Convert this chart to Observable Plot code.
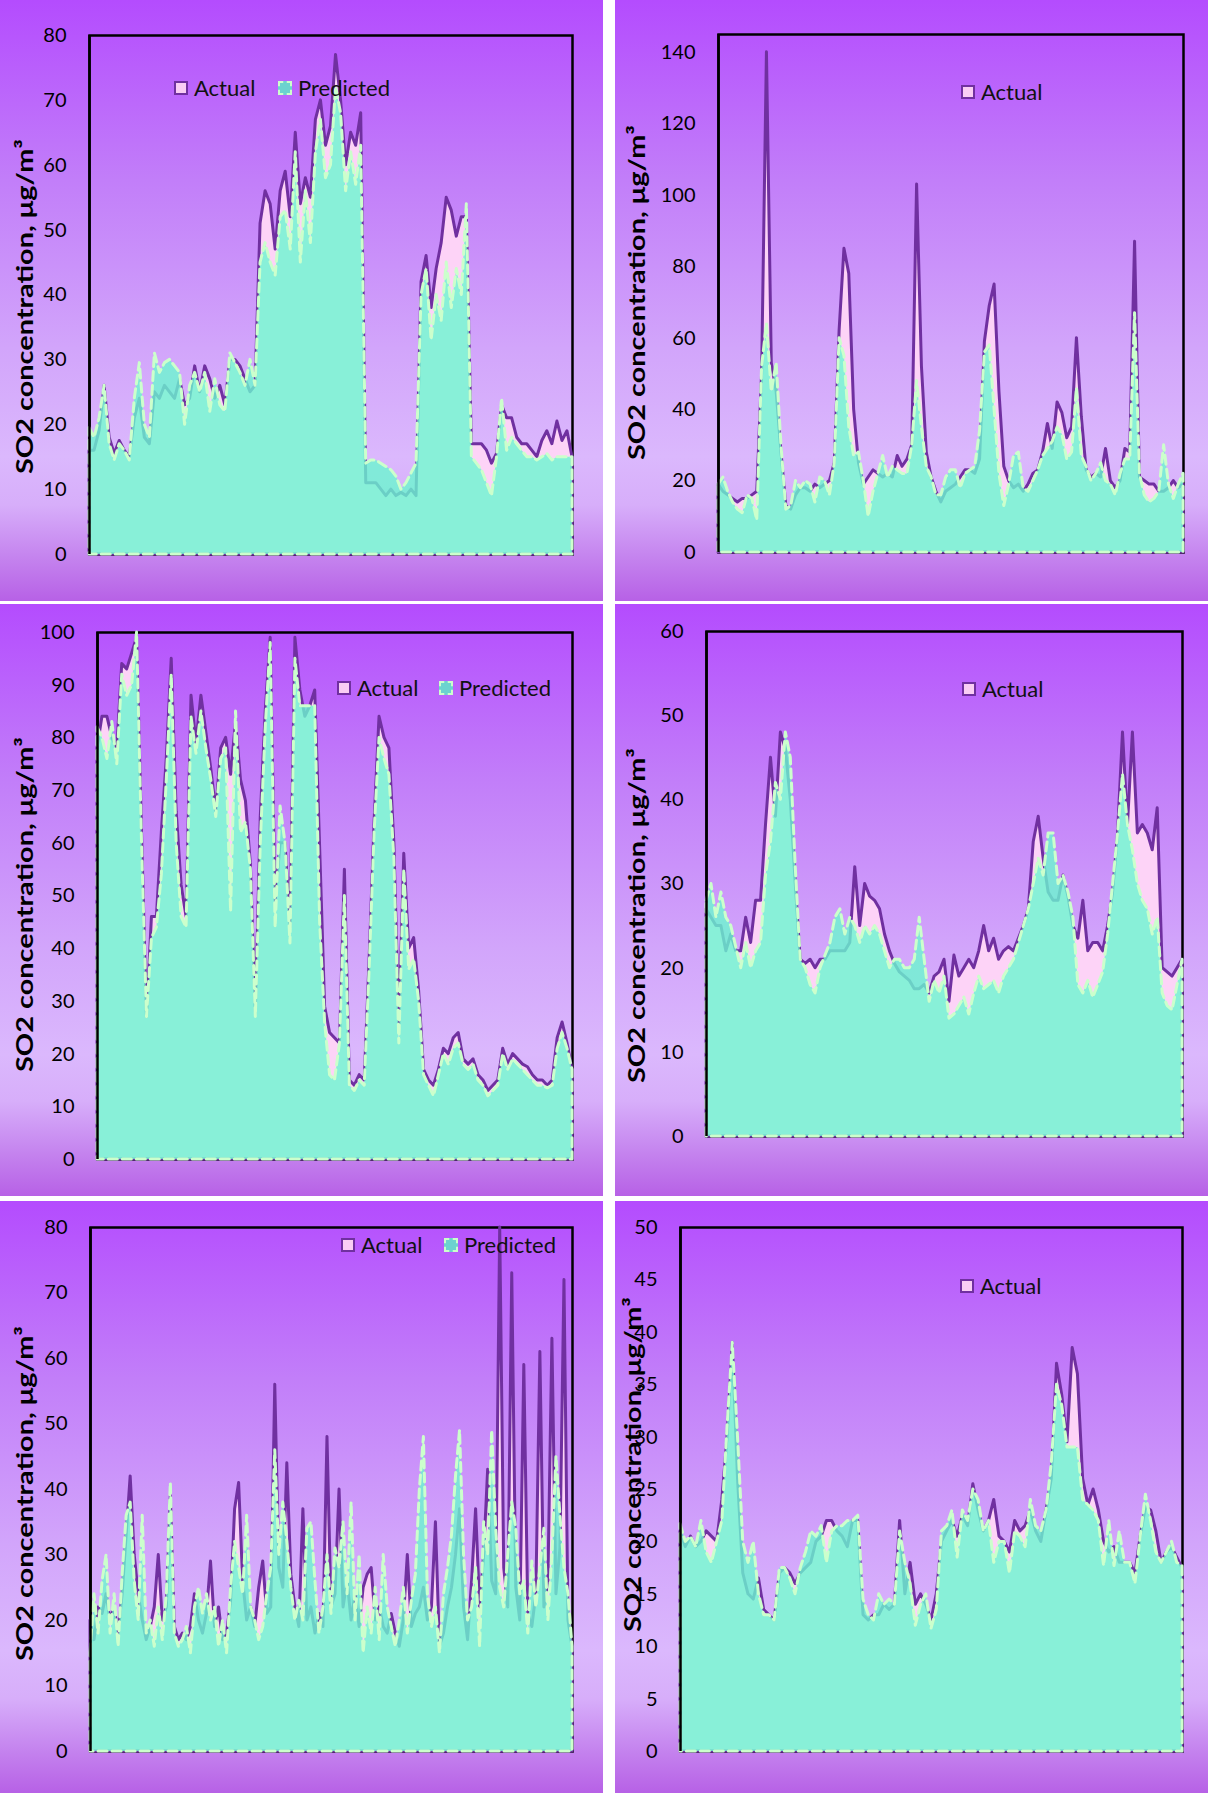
<!DOCTYPE html>
<html><head><meta charset="utf-8">
<script src="https://cdn.jsdelivr.net/npm/d3@7"></script>
<script src="https://cdn.jsdelivr.net/npm/@observablehq/plot@0.6"></script>
<style>
body{margin:0;background:#fff;}
#page{position:relative;width:1208px;height:1793px;overflow:hidden;font-family:Lato,"Open Sans",sans-serif;}
.panel{position:absolute;background:linear-gradient(to bottom,#b44cfe 0%,#c27ef9 30%,#d2a5fb 58%,#dbb8fd 76%,#d7aefa 84%,#c482ee 93%,#b761e6 100%);}
.panel svg{position:absolute;left:0;top:0;}
.legend{position:absolute;display:flex;align-items:center;font-size:22px;line-height:24px;color:#111;white-space:nowrap;}
.sw{width:14px;height:14px;box-sizing:border-box;margin-right:6px;}
.sw.a{background:#f9cdf4;border:2px solid #7030a0;}
.sw.p{background:#6cd3cf;border:2px dashed #ccffcc;}
</style></head>
<body><div id="page"></div>
<script>
// ---------- data ----------
const yLabel = "SO2 concentration, μg/m³";
const legendActual = "Actual";
const legendPredicted = "Predicted";

const TL_actual = [16,16,19,26,18,15.5,17.5,16,15,21,24,18,17,25,24,26,25,24,27,23,24,29,25,29,27,24,26,23,30,30,29,27,25,26,51,56,54,47,56,59,52,65,54,58,55,67,70,63,66,77,70,60,65,63,68,11,11,11,10,9,10,9,9.5,9,10,9,42,46,38,44,48,55,53,49,52,52,17,17,17,16,14,15.5,23,21,21,18,17,17,16,15,17.5,19,17,20.5,17.5,19,15];
const TL_pred = [19.5,18,21,26,17,14.5,17,16,14.5,24,29.5,20,18,31,28,29.5,30,29,28,20,26,28,25,28,22,27,23,22,31,29.5,28,26,30,26,45,48,45,43,52,53,47,62,45,56,48,62,67,58,60,72,68,56,62,57,63,14,14.5,14.5,14,13.5,13,12,10,11,12.5,14,40,44,33,40,36,45,38,44,40,54,15,14,13,11,9,15,24,16,18,17,16,15,15,14.5,15,15.5,14.5,15,15,15,15];

const TR_actual = [19,17,16,15,14,15,15,16,17,50,140,53,45,28,13,12,16,18,18,17,19,18,19,20,25,62,85,78,40,25,19,21,23,22,21,22,21,27,24,26,30,103,52,28,21,17,14,17,18,19,21,23,23,22,26,59,69,75,45,24,20,18,19,17,19,22,23,28,36,29,42,39,32,35,60,38,23,21,22,21,29,20,18,20,29,28,87,21,20,19,19,17,17,18,20,18,19];
const TR_pred = [19,21,17,14,12,11,16,15,9,52,64,45,53,30,12,13,20,18,20,19,14,21,20,16,25,60,55,35,27,28,20,10,17,22,27,21,24,23,22,22,30,48,35,24,21,16,16,21,23,23,18,22,23,24,34,56,58,40,22,13,19,27,28,18,17,20,23,27,29,31,35,33,26,28,46,27,24,20,22,25,20,19,16,22,26,26,67,22,16,14,15,17,30,19,15,19,22];

const ML_actual = [78,84,84,80,78,94,93,96,99,62,27,46,46,62,76,95,66,52,46,88,79,88,81,74,66,78,80,73,83,72,68,56,28,65,85,99,49,60,60,44,99,89,84,86,89,59,29,24,23,22,55,15,14,16,15,38,64,84,80,78,60,25,58,40,42,32,17,15,14,17,21,20,23,24,19,18,19,16,15,13,14,15,21,18,20,19,18,17.5,16,15,15,14,15,23,26,22,17];
const ML_pred = [82,80,76,83,75,92,88,90,100,60,27,42,44,54,72,92,60,46,44,84,77,85,78,72,65,76,78,47,85,62,64,55,27,60,82,98,44,67,60,41,95,86,86,86,86,45,26,16,15,22,50,14,13,15,14,36,62,80,76,73,57,22,55,36,38,30,16,14,12,16,20,18,21,22,18,17,18,15,14,12,13,14,20,17,19,18,17,16,15,14,14,13.5,14,21,24,21,17];

const MR_actual = [27,26,25,25,22,24,22,22,26,23,28,28,37,45,38,48,46,40,30,21,20.5,21,20,21,21,22,22,22,22,23,32,25,30,28.5,28,27,24,22,20.5,19.5,19,18.5,17.5,17.5,18,17,19,19.5,21,16,21.5,19,20,21,20,22,25,22,23.5,21,22,22.5,22,23.5,25,27,35,38,33,29,28,28,31,28.5,25,23.5,28,22,23,23,22,25,29,36,48,37,48,36,37,36,34,39,20,19.5,19,20,21];
const MR_pred = [28,30,26,29,26,25,22.5,20,23,20,22,23,31,35,42,40,48,45,32,21,20,18,17,20,21.5,23,26,27,24,26,25,23,25,24,25,24,22,20,21,21,20,20,21,26,21,16,18.5,17,19,14,14.5,15.5,16.5,14.5,17,19,17.5,18,18.5,17,19,20,21,23,25,27,30,33,31,36,36,30,31,29,26,18,17,18.5,16.5,18,19.5,24,30,36,43,37,34,30,28,27,24,26,17,15.5,15,18,21];

const BL_actual = [20,17,22,21,24,20,22,18,24,33,42,30,24,20,17,19,22,30,20,22,39,19,17,18,17,19,24,20,18,21,29,19,22,17,18,23,37,41,26,20,22,19,25,29,21,22,56,28,25,44,27,22,19,37,20,22,18,21,19,48,22,24,40,22,26,20,24,19,25,27,28,20,22,19,18,21,18,16,20,30,19,21,22,25,20,22,35,16,18,22,25,30,37,22,17,26,37,22,30,43,26,24,80,28,22,73,25,20,59,21,19,24,61,22,26,63,24,31,72,20,16];
const BL_pred = [15,24,18,26,30,18,24,16,27,36,38,26,20,36,18,20,16,22,17,24,41,18,16,17,19,15,22,25,21,24,20,22,16,20,15,25,32,28,24,36,22,20,17,19,24,28,46,30,38,32,25,20,23,20,34,35,26,18,22,30,21,31,28,35,24,38,20,30,15,22,18,25,17,30,22,19,16,20,25,18,23,27,40,48,24,19,22,15,24,28,33,42,49,30,20,22,28,16,35,30,49,34,25,22,30,38,34,24,26,18,29,22,28,34,20,30,45,36,28,24,16];

const BR_actual = [21,19.5,20.5,19.5,20,21,20.5,20,24,30,39,26,17,15,14.5,16.5,13.5,13,12.5,17,17.5,17,16,17,17.5,18,20,20.5,22,22,21,20.5,19.5,22,22,13,12.5,13,13,14,13.5,14,22,15,18,14,15,14,12.5,15,20,21,22,20.5,22.5,21.5,25.5,23,21,22,24,20.5,20,19,22,21,21.5,23,21,20,23,26,37,34,29.5,38.5,36,26,23.5,25,23,20,19,19.5,18,18,18,17,20.5,23.3,23,21,18,19,19.5,18.5,17.5];
const BR_pred = [21.7,20,20.5,19.5,22,19,18,20,22,31,39,30,20,18,20,15,13,13,12.5,17.5,17.5,16.5,15,17.5,19,21,20.5,21.5,18,21,21.5,21.5,22,22,22.5,14.5,13,12.5,15,14,14.5,14,21,18,16,12,14,15,11.7,13.5,21,21.5,23,18.5,23,22,25,24,21,22,18,20,20,17,21,20.5,19.5,24,21.5,21,23,27.5,35,33,29,29,29,24,23.5,23,22,17.7,22,17.7,21,18,18,16,20.5,24.5,22,19,18,19,20,18,17.7];

// y-axis maxima and tick steps
const TL_y = [80, 10], TR_y = [145, 20], ML_y = [100, 10], MR_y = [60, 10], BL_y = [80, 10], BR_y = [50, 5];

// ---------- layout ----------
const panels = [
  {left:0,   top:0,    w:603, h:601, L:89,  R:572,  T:35,   B:554,  y:TL_y, a:TL_actual, p:TL_pred, lab:[25,306],  leg:{y:88,   ax:174, px:278}},
  {left:615, top:0,    w:593, h:601, L:718, R:1183, T:34,   B:552,  y:TR_y, a:TR_actual, p:TR_pred, lab:[637,292], leg:{y:92,   ax:961}},
  {left:0,   top:604,  w:603, h:592, L:97,  R:572,  T:632,  B:1159, y:ML_y, a:ML_actual, p:ML_pred, lab:[25,904],  leg:{y:688,  ax:337, px:439}},
  {left:615, top:604,  w:593, h:592, L:706, R:1182, T:631,  B:1136, y:MR_y, a:MR_actual, p:MR_pred, lab:[637,915], leg:{y:689,  ax:962}},
  {left:0,   top:1201, w:603, h:592, L:90,  R:572,  T:1227, B:1751, y:BL_y, a:BL_actual, p:BL_pred, lab:[25,1493], leg:{y:1245, ax:341, px:444}},
  {left:615, top:1201, w:593, h:592, L:680, R:1182, T:1227, B:1751, y:BR_y, a:BR_actual, p:BR_pred, lab:[633,1464],leg:{y:1286, ax:960}}
];

const page = document.getElementById("page");

function legendItem(x, cy, kind, text){
  const d = document.createElement("div");
  d.className = "legend";
  d.style.left = x + "px";
  d.style.top = (cy - 12) + "px";
  const s = document.createElement("span");
  s.className = "sw " + kind;
  d.appendChild(s);
  d.appendChild(document.createTextNode(text));
  page.appendChild(d);
}

for (const P of panels) {
  const N = P.a.length;
  const data = d3.range(N).map(i => ({i, actual: P.a[i], pred: P.p[i]}));
  const [ymax, ystep] = P.y;
  const mL = P.L - P.left, mR = P.left + P.w - P.R, mT = P.T - P.top, mB = P.top + P.h - P.B;
  const div = document.createElement("div");
  div.className = "panel";
  Object.assign(div.style, {left: P.left + "px", top: P.top + "px", width: P.w + "px", height: P.h + "px"});
  const chart = Plot.plot({
    width: P.w, height: P.h,
    marginLeft: mL, marginRight: mR, marginTop: mT, marginBottom: mB,
    style: {background: "transparent", fontFamily: "Lato, 'Open Sans', sans-serif", fontSize: "20px", color: "#000", overflow: "visible"},
    x: {domain: [0, N - 1], axis: null},
    y: {domain: [0, ymax], axis: null},
    marks: [
      Plot.frame({stroke: "#000", strokeWidth: 2.5}),
      Plot.areaY(data, {x: "i", y: "actual", fill: "#fdd3f7", stroke: "#7030a0", strokeWidth: 3, strokeLinejoin: "round"}),
      Plot.areaY(data, {x: "i", y: "pred", fill: "#6af8cf", fillOpacity: 0.8, stroke: "#ccffcc", strokeWidth: 3, strokeDasharray: "9,5", strokeLinejoin: "round"}),
      Plot.ruleX([0], {stroke: "#000", strokeWidth: 2.5}),
      Plot.axisY(d3.range(0, ymax + 0.001, ystep), {tickSize: 0, tickPadding: 23, fontSize: 20, label: null}),
      Plot.text([yLabel], {text: d => d, frameAnchor: "left", textAnchor: "middle", rotate: -90,
        dx: P.lab[0] - P.left - mL, dy: P.lab[1] - (P.top + mT + (P.B - P.T) / 2),
        fontSize: 23, fontWeight: "bold", fill: "#000"})
    ]
  });
  chart.querySelectorAll('g[aria-label="text"] text').forEach(t => {
    t.setAttribute("textLength", 335);
    t.setAttribute("lengthAdjust", "spacingAndGlyphs");
  });
  div.appendChild(chart);
  page.appendChild(div);
  legendItem(P.leg.ax, P.leg.y, "a", legendActual);
  if (P.leg.px) legendItem(P.leg.px, P.leg.y, "p", legendPredicted);
}
</script>
</body></html>
